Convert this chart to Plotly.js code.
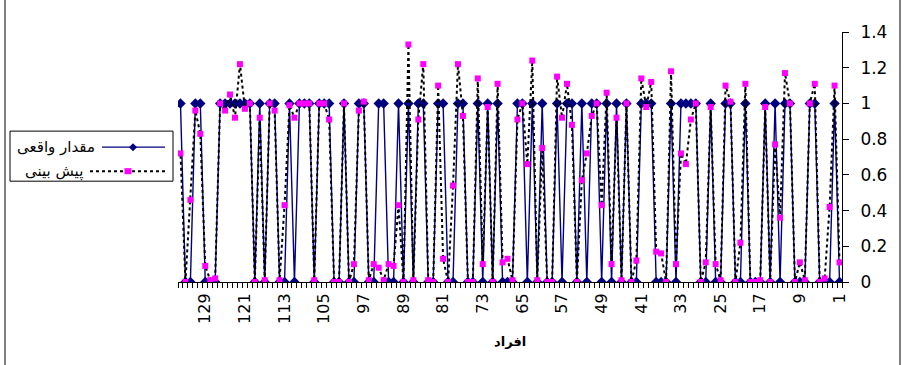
<!DOCTYPE html>
<html><head><meta charset="utf-8">
<script src="https://cdn.plot.ly/plotly-3.0.1.min.js"></script>
<style>body{margin:0;background:#fff}#chart{width:905px;height:365px}</style>
</head><body>
<div id="chart"></div>
<script>
const individuals = [1,2,3,4,5,6,7,8,9,10,11,12,13,14,15,16,17,18,19,20,21,22,23,24,25,26,27,28,29,30,31,32,33,34,35,36,37,38,39,40,41,42,43,44,45,46,47,48,49,50,51,52,53,54,55,56,57,58,59,60,61,62,63,64,65,66,67,68,69,70,71,72,73,74,75,76,77,78,79,80,81,82,83,84,85,86,87,88,89,90,91,92,93,94,95,96,97,98,99,100,101,102,103,104,105,106,107,108,109,110,111,112,113,114,115,116,117,118,119,120,121,122,123,124,125,126,127,128,129,130,131,132,133,134];
const tickLabels = [1,9,17,25,33,41,49,57,65,73,81,89,97,105,113,121,129];
const actual = [0,1,0,0,0,1,1,0,0,0, 1,1,0,1,0,1,0,0,0,1, 0,0,1,1,0,0,1,0,0,1, 1,1,1,0,1,0,0,0,1,1, 1,0,0,1,0,1,0,1,0,1, 1,0,1,0,1,1,0,1,0,0, 1,0,1,0,1,1,0,0,0,1, 0,1,0,1,0,0,1,1,0,0, 1,1,0,0,1,1,0,1,0,1, 0,0,1,1,0,0,1,1,0,0, 1,0,0,1,1,1,0,1,1,1, 0,1,0,0,1,1,0,1,0,1, 1,1,1,1,1,1,0,0,0,1, 1,0,0,1];
const predicted = [0.11,1.10,0.42,0.02,0.00,1.11,1.00,0.01,0.11,0.00, 1.00,1.17,0.36,0.77,0.00,0.98,0.01,0.00,0.00,1.11, 0.22,0.00,1.01,1.10,0.01,0.10,0.98,0.11,0.00,1.00, 0.91,0.66,0.72,0.10,1.18,0.00,0.16,0.17,1.12,0.98, 1.14,0.12,0.00,1.00,0.01,0.92,0.10,1.06,0.43,1.00, 0.93,0.72,0.57,0.00,0.88,1.11,0.92,1.15,0.00,0.00, 0.75,0.01,1.24,0.66,1.00,0.91,0.01,0.13,0.11,1.11, 0.00,0.98,0.10,1.14,0.00,0.00,0.93,1.22,0.54,0.00, 0.13,1.10,0.00,0.01,1.22,0.91,0.01,1.33,0.00,0.43, 0.09,0.10,0.01,0.08,0.10,0.01,1.01,0.96,0.10,0.00, 1.00,0.00,0.00,0.91,1.00,1.00,0.01,1.00,1.00,1.00, 0.92,0.99,0.43,0.01,0.96,1.00,0.01,0.92,0.00,1.00, 0.97,1.22,0.92,1.05,0.96,1.00,0.02,0.01,0.09,0.83, 0.96,0.46,0.00,0.72];
const seriesNames = ['مقدار واقعی','پیش بینی'];
const axisTitle = 'افراد';

const NAVY = '#000080', MAG = '#FF00FF';
const FONT = 'DejaVu Sans, Arial, sans-serif';
const L = 178, R = 842, T = 32, B = 281.7;
const px = x => (x - L) / (R - L);
const py = y => (B - y) / (B - T);

const traces = [
  {x: individuals, y: actual, type: 'scatter', mode: 'lines+markers', name: seriesNames[0],
   line: {color: NAVY, width: 1.4}, marker: {symbol: 'diamond', size: 8, color: NAVY}},
  {x: individuals, y: predicted, type: 'scatter', mode: 'lines+markers', name: seriesNames[1],
   line: {color: '#000', width: 2, dash: 'dot'}, marker: {symbol: 'square', size: 6, color: MAG}}
];

const shapes = [
  {type:'line', xref:'paper', yref:'paper', x0:px(5), x1:px(5), y0:py(0), y1:py(365), line:{color:'#000', width:1}},
  {type:'line', xref:'paper', yref:'paper', x0:px(900), x1:px(900), y0:py(0), y1:py(365), line:{color:'#000', width:1}},
  {type:'rect', xref:'paper', yref:'paper', x0:px(10), x1:px(173), y0:py(131), y1:py(181), line:{color:'#000', width:1}, fillcolor:'#fff'},
  {type:'line', xref:'paper', yref:'paper', x0:px(102), x1:px(165), y0:py(147), y1:py(147), line:{color:NAVY, width:1.4}},
  {type:'path', xref:'paper', yref:'paper', xsizemode:'pixel', ysizemode:'pixel', xanchor:px(133), yanchor:py(147),
   path:'M0,4 L4,0 L0,-4 L-4,0 Z', fillcolor:NAVY, line:{color:NAVY, width:0}},
  {type:'line', xref:'paper', yref:'paper', x0:px(90), x1:px(165), y0:py(171), y1:py(171), line:{color:'#000', width:2, dash:'dot'}},
  {type:'path', xref:'paper', yref:'paper', xsizemode:'pixel', ysizemode:'pixel', xanchor:px(128), yanchor:py(171),
   path:'M-3.5,-3 L3.5,-3 L3.5,3 L-3.5,3 Z', fillcolor:MAG, line:{color:MAG, width:0}}
];

const annotations = [
  {text: seriesNames[0], xref:'paper', yref:'paper', x:px(97), y:py(147), xanchor:'right', yanchor:'middle', showarrow:false, font:{family:FONT, size:15, color:'#000'}},
  {text: seriesNames[1], xref:'paper', yref:'paper', x:px(85), y:py(171), xanchor:'right', yanchor:'middle', showarrow:false, font:{family:FONT, size:15, color:'#000'}},
  {text: '<b>' + axisTitle + '</b>', xref:'paper', yref:'paper', x:0.5, y:py(341), xanchor:'center', yanchor:'middle', showarrow:false, font:{family:FONT, size:13, color:'#000'}}
];

const layout = {
  width: 905, height: 365,
  margin: {l: L, r: 905 - R, t: T, b: 365 - B, pad: 0},
  paper_bgcolor: '#fff', plot_bgcolor: '#fff',
  showlegend: false,
  xaxis: {range: [134.5, 0.5], tickmode: 'array', tickvals: tickLabels, ticktext: tickLabels.map(String),
    tickangle: -90, ticks: '', showline: true, linecolor: '#000', linewidth: 1, showgrid: false, zeroline: false,
    ticklabelstandoff: 4,
    tickfont: {family: FONT, size: 16, color: '#000'},
    minor: {tick0: 0.5, dtick: 1, ticks: 'outside', ticklen: 5, tickcolor: '#000', tickwidth: 1, showgrid: false}},
  yaxis: {side: 'right', range: [0, 1.4], dtick: 0.2, ticks: 'outside', ticklen: 6, tickcolor: '#000',
    showline: true, linecolor: '#000', linewidth: 1, showgrid: false, zeroline: false,
    ticklabelstandoff: 8,
    tickfont: {family: FONT, size: 17, color: '#000'}},
  shapes: shapes,
  annotations: annotations
};

Plotly.newPlot('chart', traces, layout, {displayModeBar: false, staticPlot: true});
</script>
</body></html>
